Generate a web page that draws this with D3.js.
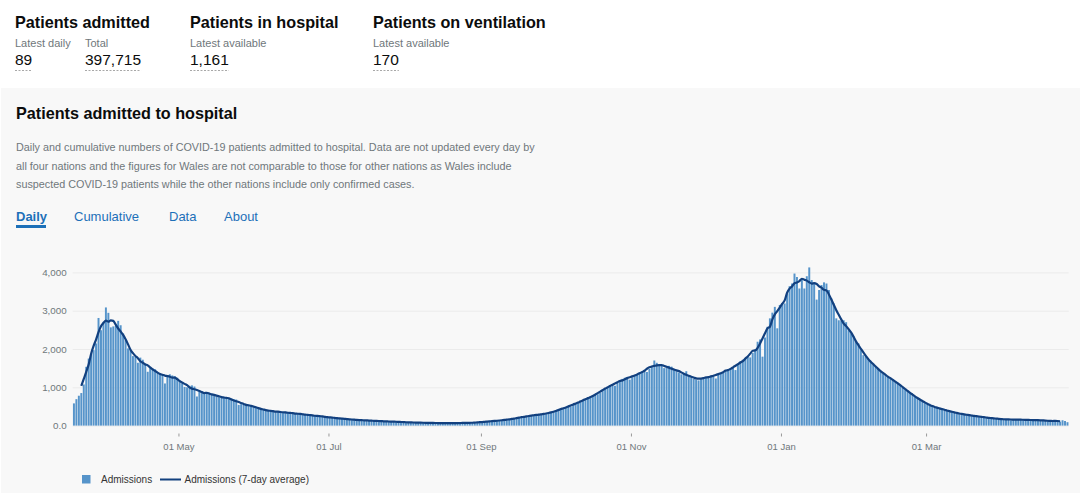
<!DOCTYPE html>
<html>
<head>
<meta charset="utf-8">
<script src="https://cdn.jsdelivr.net/npm/d3@7"></script>
<style>
  body { margin: 0; background: #fff; font-family: "Liberation Sans", Arial, sans-serif; }
  svg { display: block; }
</style>
</head>
<body>
<svg id="page"></svg>
<script>
// daily admissions
var mar2020 = [580, 690, 780, 850, 1075, 1535, 1750, 1860, 1970, 2145, 2810, 2490, 2710];
var apr2020 = [3085, 2945, 2565, 2590, 2600, 2735, 2620, 2405, 2230, 2015, 1970, 1815, 1790, 1640, 1775, 1720, 1620, 1405, 1535, 1490, 1470, 1380, 1360, 1345, 1100, 1300, 1340, 1310, 1290, 1250];
var may2020 = [1180, 1100, 1010, 1000, 1040, 1050, 1020, 760, 880, 900, 850, 870, 860, 830, 790, 760, 740, 770, 730, 720, 700, 710, 690, 680, 540, 560, 570, 550, 540, 520, 500];
var jun2020 = [480, 450, 440, 410, 400, 380, 390, 370, 360, 380, 350, 340, 360, 330, 320, 330, 320, 310, 300, 290, 300, 280, 270, 260, 270, 250, 240, 230, 250, 220];
var jul2020 = [210, 200, 190, 205, 195, 180, 170, 175, 165, 150, 160, 150, 140, 145, 135, 130, 125, 140, 130, 120, 115, 120, 110, 105, 115, 100, 95, 105, 100, 95, 90];
var aug2020 = [90, 85, 80, 75, 85, 80, 70, 75, 80, 70, 65, 75, 70, 65, 60, 70, 65, 60, 65, 70, 60, 65, 70, 75, 65, 70, 75, 80, 70, 80, 85];
var sep2020 = [95, 100, 110, 105, 115, 120, 125, 135, 140, 150, 145, 160, 175, 185, 190, 210, 220, 230, 245, 260, 255, 270, 280, 285, 295, 310, 300, 320, 340, 360];
var oct2020 = [380, 400, 430, 450, 480, 520, 500, 540, 580, 610, 620, 660, 700, 720, 740, 780, 800, 820, 860, 950, 980, 1020, 1060, 1080, 1040, 1120, 1170, 1220, 1250, 1270, 1200];
var nov2020 = [1260, 1310, 1330, 1380, 1420, 1450, 1400, 1480, 1560, 1700, 1640, 1580, 1560, 1500, 1520, 1560, 1540, 1480, 1420, 1390, 1340, 1370, 1420, 1300, 1250, 1220, 1200, 1180, 1210, 1260];
var dec2020 = [1250, 1280, 1300, 1320, 1230, 1350, 1380, 1400, 1430, 1470, 1500, 1520, 1450, 1600, 1680, 1720, 1760, 1800, 1780, 1900, 2000, 2190, 2250, 1800, 2300, 2580, 2800, 2950, 3100, 2540, 3150];
var jan2021 = [3200, 3190, 3450, 3640, 3710, 3970, 3880, 3580, 3800, 3580, 3900, 4130, 3800, 3710, 3290, 3540, 3670, 3740, 3710, 3540, 3320, 3190, 2800, 2750, 2740, 2750, 2700, 2490, 2410, 2340, 2190];
var feb2021 = [2145, 1970, 1840, 1800, 1750, 1670, 1580, 1540, 1490, 1405, 1360, 1320, 1275, 1230, 1210, 1150, 1120, 1060, 1000, 960, 900, 850, 800, 760, 720, 680, 640, 600];
var mar2021 = [560, 540, 500, 480, 470, 440, 420, 430, 400, 380, 360, 340, 320, 300, 320, 300, 280, 270, 260, 250, 240, 250, 230, 220, 210, 200, 190, 180, 190, 180, 170];
var apr2021 = [170, 160, 150, 140, 165, 170, 160, 155, 150, 145, 135, 150, 155, 150, 140, 135, 130, 125, 135, 130, 120, 115, 110, 105, 140, 120, 89];
var startDate = new Date(2020, 2, 19);

var yTickValues = [0, 1000, 2000, 3000, 4000];
var yTickLabels = ["0.0", "1,000", "2,000", "3,000", "4,000"];
var xTickDates = [new Date(2020, 4, 1), new Date(2020, 6, 1), new Date(2020, 8, 1), new Date(2020, 10, 1), new Date(2021, 0, 1), new Date(2021, 2, 1)];
var xTickLabels = ["01 May", "01 Jul", "01 Sep", "01 Nov", "01 Jan", "01 Mar"];

var cardTitles = ["Patients admitted", "Patients in hospital", "Patients on ventilation"];
var cardLabels = [["Latest daily", "Total"], ["Latest available"], ["Latest available"]];
var cardValues = [["89", "397,715"], ["1,161"], ["170"]];

var panelTitle = "Patients admitted to hospital";
var descLines = [
  "Daily and cumulative numbers of COVID-19 patients admitted to hospital. Data are not updated every day by",
  "all four nations and the figures for Wales are not comparable to those for other nations as Wales include",
  "suspected COVID-19 patients while the other nations include only confirmed cases."
];
var tabNames = ["Daily", "Cumulative", "Data", "About"];
var legendNames = ["Admissions", "Admissions (7-day average)"];

var barColour = "#5694ca";
var lineColour = "#12407f";
var textGrey = "#6f777b";

var svg = d3.select("#page").attr("width", 1080).attr("height", 493);

////headline cards
var cardX = [15, 190, 373];
var subX = [0, 70];
cardTitles.forEach(function(t, i)
{
  svg.append("text").attr("x", cardX[i]).attr("y", 28)
    .attr("font-size", 16.2).attr("font-weight", "bold").attr("fill", "#0b0c0c")
    .text(t);
  cardLabels[i].forEach(function(l, j)
  {
    svg.append("text").attr("x", cardX[i] + subX[j]).attr("y", 47)
      .attr("font-size", 11).attr("fill", textGrey).text(l);
    var v = svg.append("text").attr("x", cardX[i] + subX[j]).attr("y", 65)
      .attr("font-size", 15.5).attr("fill", "#0b0c0c").text(cardValues[i][j]);
    var w = v.node().getComputedTextLength();
    svg.append("line")
      .attr("x1", cardX[i] + subX[j]).attr("x2", cardX[i] + subX[j] + w)
      .attr("y1", 70.5).attr("y2", 70.5)
      .attr("stroke", "#a8a8a8").attr("stroke-dasharray", "2,1.5");
  });
});

////grey panel
svg.append("rect").attr("x", 1).attr("y", 88).attr("width", 1079).attr("height", 405)
  .attr("fill", "#f8f8f8");
svg.append("text").attr("x", 16).attr("y", 119)
  .attr("font-size", 16.2).attr("font-weight", "bold").attr("fill", "#0b0c0c")
  .text(panelTitle);
descLines.forEach(function(l, i)
{
  svg.append("text").attr("x", 16).attr("y", 151 + i * 18.7)
    .attr("font-size", 10.8).attr("fill", textGrey).text(l);
});
var tabX = [16, 74, 169, 224];
tabNames.forEach(function(t, i)
{
  svg.append("text").attr("x", tabX[i]).attr("y", 221)
    .attr("font-size", 13).attr("fill", "#1d70b8")
    .attr("font-weight", i == 0 ? "bold" : "normal").text(t);
});
svg.append("rect").attr("x", 16).attr("y", 225).attr("width", 30).attr("height", 3)
  .attr("fill", "#1d70b8");

////chart
var admissions = [].concat(mar2020, apr2020, may2020, jun2020, jul2020, aug2020, sep2020,
  oct2020, nov2020, dec2020, jan2021, feb2021, mar2021, apr2021);
var daily = admissions.map(function(v, i)
{
  return { date: d3.timeDay.offset(startDate, i), value: v };
});
// centred 7-day average, as the dashboard draws it
var average = [];
daily.forEach(function(d, i)
{
  if (i >= 3 && i < daily.length - 3)
  {
    average.push({ date: d.date, value: d3.mean(daily.slice(i - 3, i + 4), function(s) { return s.value; }) });
  }
});

var plotLeft = 72.7, plotRight = 1068.7, plotBottom = 425.6, plotTop = 272.4;
var xScale = d3.scaleTime()
  .domain([startDate, d3.timeDay.offset(startDate, daily.length)])
  .range([plotLeft, plotRight]);
var yScale = d3.scaleLinear().domain([0, 4000]).range([plotBottom, plotTop]);
var step = xScale(d3.timeDay.offset(startDate, 1)) - xScale(startDate);

var yAxis = d3.axisLeft(yScale).tickValues(yTickValues)
  .tickFormat(function(d, i) { return yTickLabels[i]; })
  .tickSize(-(plotRight - plotLeft)).tickPadding(6);
var yG = svg.append("g").attr("transform", "translate(" + plotLeft + ",0)").call(yAxis);
yG.select(".domain").remove();
yG.selectAll("line").attr("stroke", "#ebebeb");
yG.selectAll("text").attr("fill", textGrey).attr("font-size", 9.8)
  .attr("font-family", "Liberation Sans, Arial, sans-serif");

svg.append("g").selectAll("rect").data(daily).enter().append("rect")
  .attr("x", function(d) { return xScale(d.date) + 0.25; })
  .attr("width", step - 0.5)
  .attr("y", function(d) { return yScale(d.value); })
  .attr("height", function(d) { return plotBottom - yScale(d.value); })
  .attr("fill", barColour);

var drawLine = d3.line()
  .x(function(d) { return xScale(d.date) + step / 2; })
  .y(function(d) { return yScale(d.value); })
  .curve(d3.curveMonotoneX);
svg.append("path").datum(average)
  .attr("d", drawLine).attr("fill", "none")
  .attr("stroke", lineColour).attr("stroke-width", 2.2);

var xAxis = d3.axisBottom(xScale).tickValues(xTickDates)
  .tickFormat(function(d, i) { return xTickLabels[i]; })
  .tickSize(3).tickPadding(7);
var xG = svg.append("g").attr("transform", "translate(0,433.5)").call(xAxis);
xG.select(".domain").remove();
xG.selectAll("line").attr("stroke", "#999");
xG.selectAll("text").attr("fill", textGrey).attr("font-size", 9.5)
  .attr("font-family", "Liberation Sans, Arial, sans-serif");

////legend
svg.append("rect").attr("x", 82).attr("y", 475).attr("width", 8.5).attr("height", 8.5)
  .attr("fill", barColour);
svg.append("text").attr("x", 101).attr("y", 483).attr("font-size", 10)
  .attr("fill", "#333").text(legendNames[0]);
svg.append("line").attr("x1", 160).attr("x2", 181).attr("y1", 479.5).attr("y2", 479.5)
  .attr("stroke", lineColour).attr("stroke-width", 2);
svg.append("text").attr("x", 184.5).attr("y", 483).attr("font-size", 10)
  .attr("fill", "#333").text(legendNames[1]);
</script>
</body>
</html>
